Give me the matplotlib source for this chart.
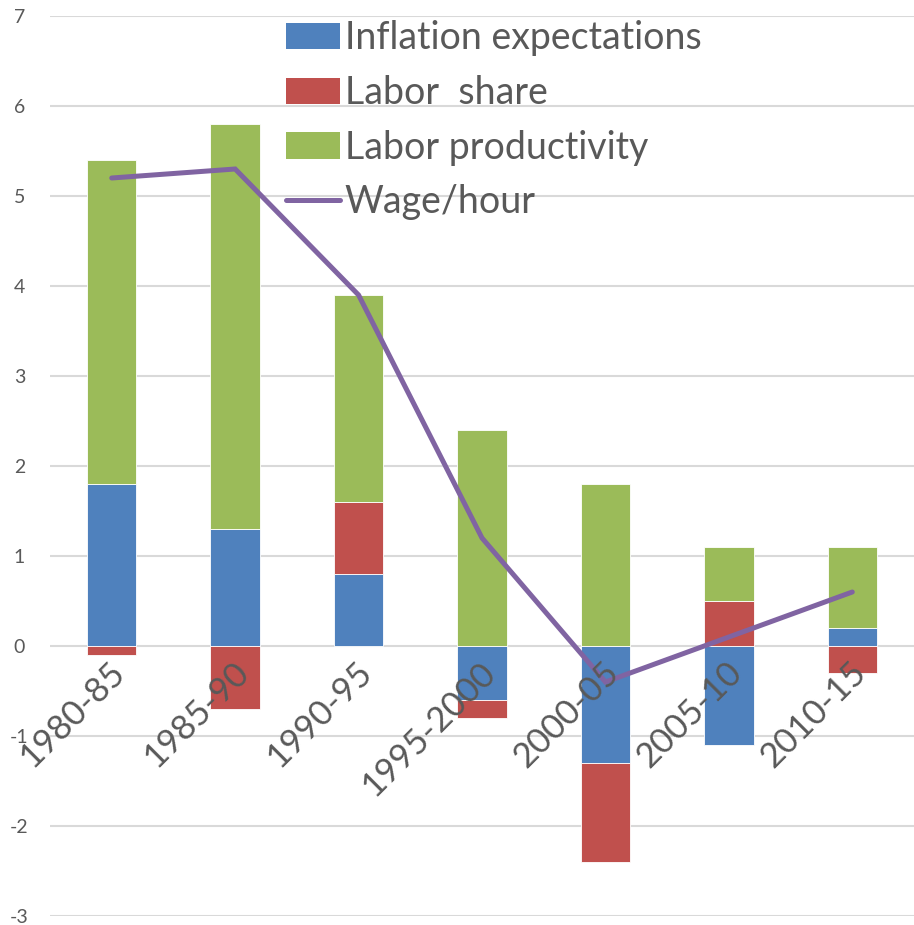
import numpy as np
import matplotlib
matplotlib.use('Agg')
import matplotlib.pyplot as plt
from matplotlib.patches import Patch
from matplotlib.lines import Line2D

# Data
periods = ['1980-85', '1985-90', '1990-95', '1995-2000', '2000-05', '2005-10', '2010-15']
inflation_exp = [1.8, 1.3, 0.8, -0.6, -1.3, -1.1, 0.2]
labor_share = [-0.1, -0.7, 0.8, -0.2, -1.1, 0.5, -0.3]
labor_prod = [3.6, 4.5, 2.3, 2.4, 1.8, 0.6, 0.9]
wage_hour = [5.2, 5.3, 3.9, 1.2, -0.4, 0.1, 0.6]

series_names = ['Inflation expectations', 'Labor  share', 'Labor productivity']
series_colors = ['#4F81BD', '#C0504D', '#9BBB59']
line_color = '#8064A2'
text_color = '#595959'

plt.rcParams['font.family'] = ['Lato', 'DejaVu Sans']

fig = plt.figure(figsize=(9.14, 9.25), dpi=100)
ax = fig.add_axes([50 / 914, 9 / 925, 864 / 914, 900 / 925])

x = np.arange(len(periods))
pos_base = np.zeros(len(periods))
neg_base = np.zeros(len(periods))

# excel style stacking: positives upward, negatives downward
for vals, col in zip([inflation_exp, labor_share, labor_prod], series_colors):
    vals = np.array(vals)
    base = np.where(vals >= 0, pos_base, neg_base)
    ax.bar(x, vals, bottom=base, width=0.4, color=col, edgecolor='white',
           linewidth=0.6, zorder=2)
    pos_base = pos_base + np.where(vals >= 0, vals, 0)
    neg_base = neg_base + np.where(vals < 0, vals, 0)

ax.plot(x, wage_hour, color=line_color, linewidth=3.6, solid_capstyle='round',
        solid_joinstyle='miter', zorder=3)

ax.set_xlim(-0.5, 6.5)
ax.set_ylim(-3, 7)
ax.set_yticks(range(-3, 8))
ax.yaxis.grid(True, color='#D9D9D9', linewidth=1.5, zorder=0)
ax.set_axisbelow(True)
for s in ax.spines.values():
    s.set_visible(False)
ax.tick_params(axis='y', length=0, labelsize=14, labelcolor=text_color, pad=22)
ax.set_yticklabels([str(v) for v in range(-3, 8)], ha='center')
ax.set_xticks([])

# category labels sit just under the zero line
for i, lab in enumerate(periods):
    ax.annotate(lab, xy=(i, 0), xytext=(-3, -10), textcoords='offset pixels',
                rotation=45, ha='right', va='top', rotation_mode='anchor',
                fontsize=25, color=text_color, zorder=4)

handles = [Patch(facecolor=c, edgecolor='none') for c in series_colors]
handles.append(Line2D([0], [0], color=line_color, linewidth=3.6, solid_capstyle='round'))
leg = ax.legend(handles, series_names + ['Wage/hour'], loc='upper left',
                bbox_to_anchor=(286 / 914, 1 - 20 / 925), bbox_transform=fig.transFigure,
                frameon=False, fontsize=27, handlelength=1.45, handleheight=0.7,
                handletextpad=0.12, labelspacing=0.5, borderaxespad=0, borderpad=0)
for t in leg.get_texts():
    t.set_color(text_color)

plt.savefig('out.png', dpi=100)
